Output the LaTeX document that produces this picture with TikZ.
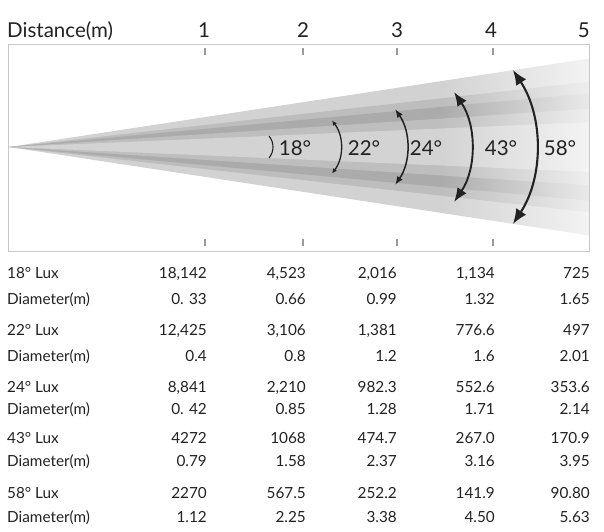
\documentclass[tikz,border=0pt]{standalone}
\usepackage{fontspec}
\setmainfont{Lato}
\usepackage{xcolor}
\usetikzlibrary{arrows.meta,fadings}
\definecolor{ink}{HTML}{222222}
\definecolor{framegray}{HTML}{C8C8C8}
\definecolor{tickgray}{HTML}{9A9A9A}
\definecolor{beamA}{HTML}{D2D2D2}
\definecolor{beamB}{HTML}{BDBDBD}
\definecolor{beamC}{HTML}{ABABAB}
\definecolor{beamD}{HTML}{BEBEBE}
\definecolor{beamE}{HTML}{D3D3D3}
\tikzfading[name=beamfade, left color=transparent!100, right color=transparent!25]

\begin{document}
\begin{tikzpicture}[x=1pt, y=-1pt, >=Latex,
  every node/.style={font=\fontsize{15.3}{18}\selectfont, text=ink, inner sep=0pt},
  head/.style={font=\fontsize{20.5}{24}\selectfont},
  anglabel/.style={font=\fontsize{20.5}{24}\selectfont},
  rowlabel/.style={anchor=base west},
  cell/.style={anchor=base east},
  angarc/.style={draw=ink}]
\useasboundingbox (0,0) rectangle (604,531);
% beam cones, widest first
\foreach \s/\c in {0.153/beamA, 0.113/beamB, 0.093/beamC, 0.066/beamD, 0.043/beamE}
  \fill[\c] (9,147) -- (589,{147-578*\s}) -- (589,{147+578*\s}) -- cycle;
\fill[white, path fading=beamfade] (440,45) rectangle (589,250);
\draw[framegray, line width=1pt] (8,44) rectangle (589,251);
\foreach \x in {205,303,397,493} {
  \draw[tickgray, line width=1.2pt] (\x,48) -- (\x,55);
  \draw[tickgray, line width=1.2pt] (\x,239) -- (\x,246);
}
% header
\node[head, anchor=base west] (dist) at (7,37) {Distance(m)};
\foreach \k/\x in {1/204,2/303,3/397,4/491}
  \node[head, anchor=base] (d\k) at (\x,37) {\k};
\node[head, anchor=base east] (d5) at (590,37) {5};
% beam angles
\draw[angarc, line width=1.1pt] (256,147) ++(-40:17) arc (-40:40:17);
\draw[angarc, line width=1.3pt, {Latex[length=5pt,width=4.5pt]}-{Latex[length=5pt,width=4.5pt]}] (297.5,147) ++(-37.5:43.5) arc (-37.5:37.5:43.5);
\draw[angarc, line width=1.5pt, {Latex[length=8.5pt,width=6.5pt]}-{Latex[length=8.5pt,width=6.5pt]}] (341,147) ++(-35:66) arc (-35:35:66);
\draw[angarc, line width=1.9pt, {Latex[length=14pt,width=11pt]}-{Latex[length=14pt,width=11pt]}] (373.5,147) ++(-34.3:97.5) arc (-34.3:34.3:97.5);
\draw[angarc, line width=2.1pt, {Latex[length=15pt,width=12pt]}-{Latex[length=15pt,width=12pt]}] (396,147) ++(-33.4:140) arc (-33.4:33.4:140);
\node[anglabel] (a18) at (295,148) {18°};
\node[anglabel] (a22) at (364,148) {22°};
\node[anglabel] (a24) at (426,148) {24°};
\node[anglabel] (a43) at (501,148) {43°};
\node[anglabel] (a58) at (560,148) {58°};
% table
\foreach \yb/\lbl/\va/\vb/\vc/\vd/\ve [count=\i] in {
  278/{18° Lux}/{18,142}/{4,523}/{2,016}/{1,134}/725,
  304/{Diameter(m)}/{0. 33}/0.66/0.99/1.32/1.65,
  335/{22° Lux}/{12,425}/{3,106}/{1,381}/776.6/497,
  361/{Diameter(m)}/0.4/0.8/1.2/1.6/2.01,
  392/{24° Lux}/{8,841}/{2,210}/982.3/552.6/353.6,
  414/{Diameter(m)}/{0. 42}/0.85/1.28/1.71/2.14,
  443/{43° Lux}/4272/1068/474.7/267.0/170.9,
  466/{Diameter(m)}/0.79/1.58/2.37/3.16/3.95,
  498/{58° Lux}/2270/567.5/252.2/141.9/90.80,
  522/{Diameter(m)}/1.12/2.25/3.38/4.50/5.63} {
  \node[rowlabel] (row\i) at (7,\yb) {\lbl};
  \node[cell] (row\i-1) at (207,\yb) {\va};
  \node[cell] (row\i-2) at (306,\yb) {\vb};
  \node[cell] (row\i-3) at (397,\yb) {\vc};
  \node[cell] (row\i-4) at (495,\yb) {\vd};
  \node[cell] (row\i-5) at (590,\yb) {\ve};
}
\end{tikzpicture}
\end{document}
